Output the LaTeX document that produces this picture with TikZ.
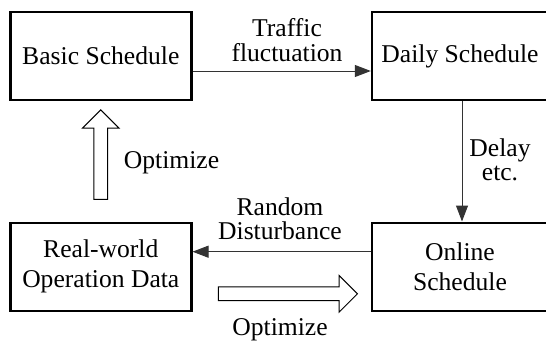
\documentclass[tikz,border=0pt]{standalone}
\usepackage{fontspec}
\setmainfont{Liberation Serif}
\usepackage{tikz}
\usetikzlibrary{arrows.meta}
\usetikzlibrary{shapes.arrows}
\tikzset{
box/.style={rectangle, draw, line width=1.2pt, minimum width=90.5pt, minimum height=44pt, align=center, font=\fontsize{12.8}{15}\selectfont},
lbl/.style={align=center, inner sep=0pt, font=\fontsize{12.8}{12.2}\selectfont},
flow/.style={draw=black!80, line width=0.5pt, -{Triangle[length=8pt,width=6pt]}},
bigarrow/.style={single arrow, draw, line width=0.5pt, inner sep=3.2pt, single arrow head extend=5.7pt, minimum width=18pt}
}

\begin{document}
\begin{tikzpicture}[x=0.5pt, y=-0.5pt]
\useasboundingbox (0,0) rectangle (546,343);
\node [box] (Basic) at (100.8,56) {Basic Schedule};
\node [box, minimum width=88pt] (Daily) at (460,56) {Daily Schedule};
\node [box, minimum width=88pt] (Online) at (460,266.7) {Online\\Schedule};
\node [box] (Real) at (100.8,266.7) {Real-world\\Operation Data};

\node [lbl] (Traffic) at (287,40) {Traffic\\fluctuation};
\node [lbl] (Delay) at (500,160) {Delay\\etc.};
\node [lbl] (Random) at (280,218.5) {Random\\Disturbance};
\node [lbl] (OptUp) at (171.5,163) {Optimize};
\node [lbl] (OptDown) at (280,330) {Optimize};

\node [bigarrow, minimum height=44.7pt, rotate=90] (ArrUp) at (100.8,158) {};
\node [bigarrow, minimum height=69.5pt] (ArrRight) at (284.5,293.8) {};

\draw [flow] ([yshift=-7.5pt]Basic.east) -- ([yshift=-7.5pt]Daily.west);
\draw [flow] ([xshift=1pt]Daily.south) -- ([xshift=1pt]Online.north);
\draw [flow] ([yshift=7.5pt]Online.west) -- ([yshift=7.5pt]Real.east);
\end{tikzpicture}
\end{document}
